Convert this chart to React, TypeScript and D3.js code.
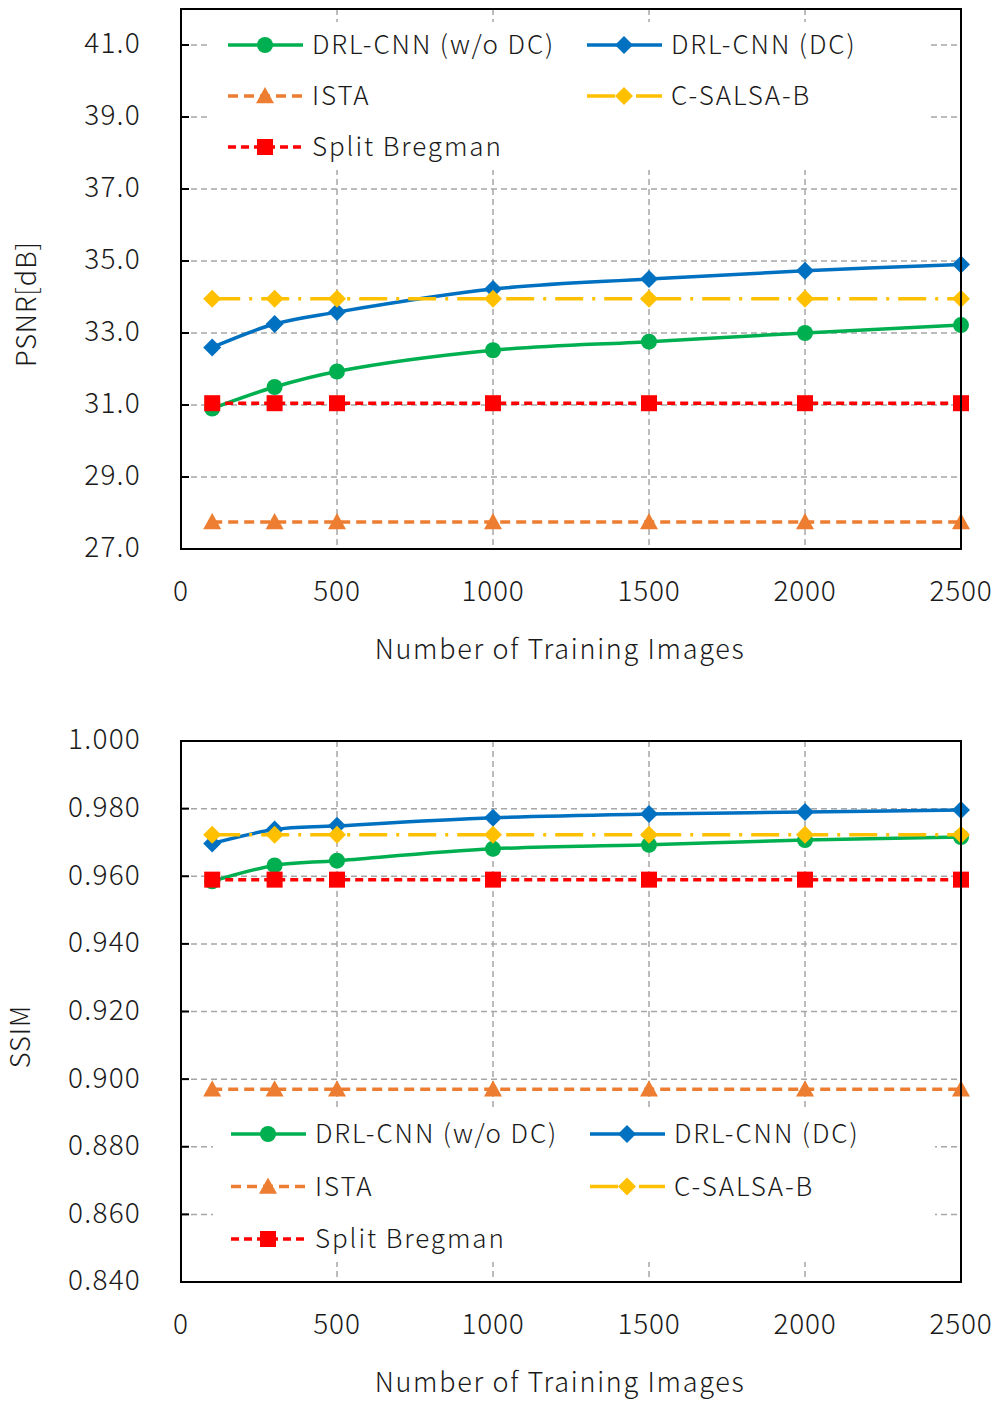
import * as d3 from 'd3';
import React from 'react';

// training set sizes
const trainSizes = [100, 300, 500, 1000, 1500, 2000, 2500];
const xTicks = [0, 500, 1000, 1500, 2000, 2500];

// PSNR [dB]
const psnrNoDC = [30.9, 31.5, 31.93, 32.52, 32.76, 33.0, 33.22];
const psnrDC = [32.6, 33.25, 33.58, 34.22, 34.5, 34.73, 34.9];
const psnrIsta = [27.75, 27.75, 27.75, 27.75, 27.75, 27.75, 27.75];
const psnrSalsa = [33.95, 33.95, 33.95, 33.95, 33.95, 33.95, 33.95];
const psnrBregman = [31.05, 31.05, 31.05, 31.05, 31.05, 31.05, 31.05];
const psnrTicks = [27, 29, 31, 33, 35, 37, 39, 41];

// SSIM
const ssimNoDC = [0.9585, 0.9632, 0.9646, 0.9681, 0.9693, 0.9707, 0.9716];
const ssimDC = [0.9697, 0.9738, 0.9749, 0.9773, 0.9784, 0.979, 0.9796];
const ssimIsta = [0.897, 0.897, 0.897, 0.897, 0.897, 0.897, 0.897];
const ssimSalsa = [0.9723, 0.9723, 0.9723, 0.9723, 0.9723, 0.9723, 0.9723];
const ssimBregman = [0.959, 0.959, 0.959, 0.959, 0.959, 0.959, 0.959];
const ssimTicks = [0.84, 0.86, 0.88, 0.9, 0.92, 0.94, 0.96, 0.98, 1.0];

const seriesNames = ['DRL-CNN (w/o DC)', 'DRL-CNN (DC)', 'ISTA', 'C-SALSA-B', 'Split Bregman'];

const styles = [
  { color: '#00B050', dash: null, marker: 'circle', smooth: true },
  { color: '#0070C0', dash: null, marker: 'diamond', smooth: true },
  { color: '#ED7D31', dash: '10,6', marker: 'triangle', smooth: false },
  { color: '#FFC000', dash: '28,9,3,9', marker: 'diamond', smooth: false },
  { color: '#FF0000', dash: '8,5', marker: 'square', smooth: false },
];

const FONT = '"Noto Sans CJK JP", "Noto Sans", sans-serif';
const TXT = '#1a1a1a';

function Marker({ kind, x, y, color }) {
  if (kind === 'circle') return <circle cx={x} cy={y} r={8} fill={color} />;
  if (kind === 'square') return <rect x={x - 8} y={y - 8} width={16} height={16} fill={color} />;
  if (kind === 'diamond') {
    const s = 9;
    return <path d={`M${x},${y - s}L${x + s},${y}L${x},${y + s}L${x - s},${y}Z`} fill={color} />;
  }
  const s = 9;
  return <path d={`M${x},${y - s}L${x + s},${y + s * 0.8}L${x - s},${y + s * 0.8}Z`} fill={color} />;
}

function Chart({ yDomain, yTicks, fmt, series, yLabel, labelX, legend }) {
  const left = 181, right = 961;
  const [y0, y1, bottomPx, topPx] = yDomain;
  const x = d3.scaleLinear().domain([0, 2500]).range([left, right]);
  const y = d3.scaleLinear().domain([y0, y1]).range([bottomPx, topPx]);

  return (
    <g>
      {/* grid */}
      {yTicks.map((t) => (
        <line key={'gy' + t} x1={left} x2={right} y1={y(t)} y2={y(t)} stroke="#A6A6A6" strokeWidth={1.5} strokeDasharray="6,4" />
      ))}
      {xTicks.filter((t) => t > 0).map((t) => (
        <line key={'gx' + t} x1={x(t)} x2={x(t)} y1={topPx} y2={bottomPx} stroke="#A6A6A6" strokeWidth={1.5} strokeDasharray="6,4" />
      ))}
      {/* legend box hides grid */}
      <rect x={legend.x} y={legend.y} width={legend.w} height={legend.h} fill="#fff" />
      {/* series */}
      {series.map((vals, i) => {
        const st = styles[i];
        const pts = trainSizes.map((s, j) => [x(s), y(vals[j])]);
        const line = d3.line().curve(st.smooth ? d3.curveCatmullRom.alpha(0.5) : d3.curveLinear);
        return (
          <g key={'s' + i}>
            <path d={line(pts)} fill="none" stroke={st.color} strokeWidth={3.5} strokeDasharray={st.dash || undefined} />
            {pts.map((p, j) => (
              <Marker key={j} kind={st.marker} x={p[0]} y={p[1]} color={st.color} />
            ))}
          </g>
        );
      })}
      {/* legend entries */}
      {seriesNames.map((name, i) => {
        const st = styles[i];
        const col = i % 2, row = Math.floor(i / 2);
        const lx = legend.lx + col * 359;
        const ly = legend.ly + row * legend.dy;
        return (
          <g key={'l' + i}>
            <line x1={lx} x2={lx + 75} y1={ly} y2={ly} stroke={st.color} strokeWidth={3.5} strokeDasharray={st.dash || undefined} />
            <Marker kind={st.marker} x={lx + 37} y={ly} color={st.color} />
            <text x={lx + 84} y={ly} dy="0.35em" fontSize={26} fontWeight={300} letterSpacing={1.9} fontFamily={FONT} fill={TXT}>{name}</text>
          </g>
        );
      })}
      {/* ticks */}
      {yTicks.map((t) => (
        <g key={'ty' + t}>
          <line x1={left} x2={left + 8} y1={y(t)} y2={y(t)} stroke="#000" strokeWidth={2} />
          <text x={141} y={y(t)} dy="0.3em" textAnchor="end" fontSize={28} fontWeight={300} letterSpacing={1.2} fontFamily={FONT} fill={TXT}>{fmt(t)}</text>
        </g>
      ))}
      {xTicks.map((t) => (
        <text key={'tx' + t} x={x(t)} y={bottomPx + 42} dy="0.35em" textAnchor="middle" fontSize={28} fontWeight={300} letterSpacing={0.8} fontFamily={FONT} fill={TXT}>{t}</text>
      ))}
      <rect x={left} y={topPx} width={right - left} height={bottomPx - topPx} fill="none" stroke="#000" strokeWidth={2} />
      <text x={560} y={bottomPx + 101} dy="0.35em" textAnchor="middle" fontSize={27} fontWeight={300} letterSpacing={1.7} fontFamily={FONT} fill={TXT}>Number of Training Images</text>
      <text transform={`translate(${labelX},${(topPx + bottomPx) / 2 + 25}) rotate(-90)`} dy="0.3em" textAnchor="middle" fontSize={27} fontWeight={300} letterSpacing={1} fontFamily={FONT} fill={TXT}>{yLabel}</text>
    </g>
  );
}

export default function App() {
  return (
    <svg width={1001} height={1407} style={{ position: 'absolute', left: 0, top: 0, background: '#fff' }}>
      <rect width={1001} height={1407} fill="#fff" />
      <Chart
        yDomain={[27, 42, 549, 9]}
        yTicks={psnrTicks}
        fmt={(v) => v.toFixed(1)}
        series={[psnrNoDC, psnrDC, psnrIsta, psnrSalsa, psnrBregman]}
        yLabel="PSNR[dB]"
        labelX={28}
        legend={{ x: 210, y: 22, w: 720, h: 148, lx: 228, ly: 45, dy: 51 }}
        />
      <Chart
        yDomain={[0.84, 1.0, 1282, 741]}
        yTicks={ssimTicks}
        fmt={(v) => v.toFixed(3)}
        series={[ssimNoDC, ssimDC, ssimIsta, ssimSalsa, ssimBregman]}
        yLabel="SSIM"
        labelX={22}
        legend={{ x: 213, y: 1108, w: 722, h: 154, lx: 231, ly: 1134, dy: 52.5 }}
      />
    </svg>
  );
}
